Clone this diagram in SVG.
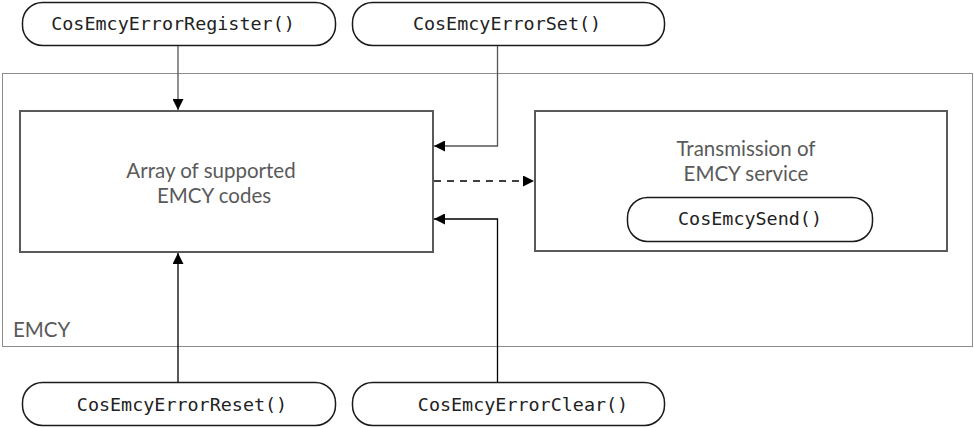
<svg xmlns="http://www.w3.org/2000/svg" width="974" height="428" viewBox="0 0 974 428">
<style>
.pill{fill:#fff;stroke:#1a1a1a;stroke-width:1.5}
.box{fill:#fff;stroke:#5a5a5a;stroke-width:2}
.frame{fill:#fff;stroke:#8c8c8c;stroke-width:1}
.mono{font-family:"DejaVu Sans Mono","Liberation Mono",monospace;font-size:18.4px;fill:#222;text-anchor:middle}
.lbl{font-family:Lato,"Open Sans",sans-serif;font-size:20.5px;fill:#5a5a5a;text-anchor:middle}
.c{fill:none;stroke-width:1.3}
</style>
<defs>
<marker id="ah" viewBox="0 0 10 10" refX="10" refY="5" markerWidth="11" markerHeight="11" markerUnits="userSpaceOnUse" orient="auto">
<path d="M0,0 L10,5 L0,10 z" fill="#000"/>
</marker>
</defs>
<g id="emcy">
<rect class="frame" x="2.5" y="73.5" width="970" height="273"/>
<text x="13" y="337" style="font-family:Lato,'Open Sans',sans-serif;font-size:20.5px;fill:#5a5a5a">EMCY</text>
</g>
<g id="array">
<rect class="box" x="20" y="111" width="413" height="141"/>
<text class="lbl" x="211" y="178">Array of supported</text>
<text class="lbl" x="214" y="203">EMCY codes</text>
</g>
<g id="transmission">
<rect class="box" x="535" y="111" width="412" height="140"/>
<text class="lbl" x="746" y="156">Transmission of</text>
<text class="lbl" x="746" y="181">EMCY service</text>
</g>
<g id="send">
<rect class="pill" x="627.5" y="197.5" width="245" height="44" rx="20"/>
<text class="mono" x="750" y="225">CosEmcySend()</text>
</g>
<g id="register">
<rect class="pill" x="22.5" y="2.5" width="313" height="43" rx="20"/>
<text class="mono" x="173" y="30">CosEmcyErrorRegister()</text>
</g>
<g id="set">
<rect class="pill" x="352.5" y="2.5" width="312" height="43" rx="20"/>
<text class="mono" x="507" y="30">CosEmcyErrorSet()</text>
</g>
<g id="reset">
<rect class="pill" x="22.5" y="382.5" width="313" height="43" rx="20"/>
<text class="mono" x="182" y="411">CosEmcyErrorReset()</text>
</g>
<g id="clear">
<rect class="pill" x="352.5" y="382.5" width="312" height="43" rx="20"/>
<text class="mono" x="523" y="411">CosEmcyErrorClear()</text>
</g>
<g id="connectors">
<path class="c" stroke="#555" d="M178,46 V110" marker-end="url(#ah)"/>
<path class="c" stroke="#555" d="M497.5,46 V146 H434" marker-end="url(#ah)"/>
<path class="c" stroke="#000" stroke-dasharray="7,6" d="M434,181 H534" marker-end="url(#ah)"/>
<path class="c" stroke="#000" d="M497.5,382 V219 H434" marker-end="url(#ah)"/>
<path class="c" stroke="#000" d="M178,382 V253" marker-end="url(#ah)"/>
</g>
</svg>
